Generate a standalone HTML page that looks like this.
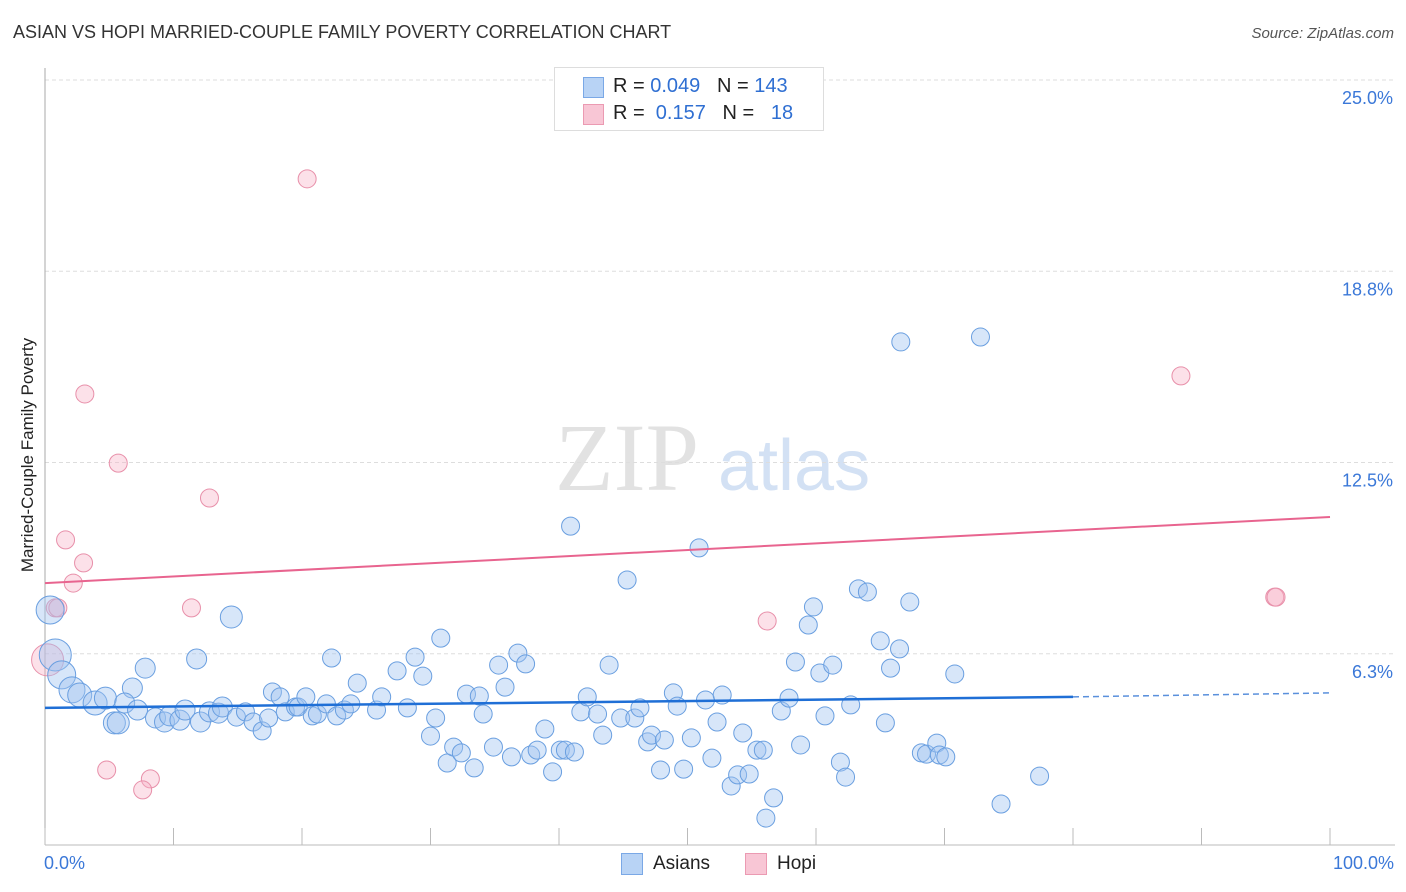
<!DOCTYPE html>
<html><head><meta charset="utf-8"><style>
body{margin:0;background:#fff;font-family:"Liberation Sans",sans-serif;}
#wrap{position:relative;width:1406px;height:892px;overflow:hidden;}
.t{position:absolute;white-space:nowrap;}
</style></head><body>
<div id="wrap">
<div class="t" style="left:13px;top:22px;font-size:18px;color:#333;">ASIAN VS HOPI MARRIED-COUPLE FAMILY POVERTY CORRELATION CHART</div>
<div class="t" style="right:12px;top:25px;font-size:15px;color:#555;font-style:italic;">Source: ZipAtlas.com</div>
<div class="t" style="left:28px;top:455px;font-size:17px;color:#222;transform:translate(-50%,-50%) rotate(-90deg);">Married-Couple Family Poverty</div>
<svg id="svg" width="1406" height="892" style="position:absolute;left:0;top:0">
<text x="555" y="490" font-family="Liberation Serif" font-size="96" fill="#e2e2e2">ZIP</text>
<text x="718" y="490" font-family="Liberation Sans" font-size="72" fill="#d3e1f4">atlas</text>
</svg>
<div style="position:absolute;left:554px;top:67px;width:268px;height:62px;border:1px solid #ddd;background:#fff;font-size:20px;">
<div style="position:absolute;left:28px;top:9px;width:19px;height:19px;background:#b8d3f5;border:1px solid #7aa8e6;"></div>
<div class="t" style="left:58px;top:7px;color:#222;">R = <span style="color:#2f6fd2">0.049</span>&nbsp;&nbsp;&nbsp;N = <span style="color:#2f6fd2">143</span></div>
<div style="position:absolute;left:28px;top:36px;width:19px;height:19px;background:#f8c6d5;border:1px solid #eb9ab2;"></div>
<div class="t" style="left:58px;top:34px;color:#222;">R = &nbsp;<span style="color:#2f6fd2">0.157</span>&nbsp;&nbsp;&nbsp;N = &nbsp;&nbsp;<span style="color:#2f6fd2">18</span></div>
</div>
<div class="t" style="left:44px;top:853px;font-size:18px;color:#3b78d8;">0.0%</div>
<div class="t" style="right:12px;top:853px;font-size:18px;color:#3b78d8;">100.0%</div>
<div>
<div style="position:absolute;left:621px;top:853px;width:20px;height:20px;background:#b8d3f5;border:1px solid #7aa8e6;"></div>
<div class="t" style="left:653px;top:853px;font-size:19px;color:#222;">Asians</div>
<div style="position:absolute;left:745px;top:853px;width:20px;height:20px;background:#f8c6d5;border:1px solid #eb9ab2;"></div>
<div class="t" style="left:777px;top:853px;font-size:19px;color:#222;">Hopi</div>
</div>
</div>
<script>
const yTicks=[6.25,12.5,18.75,25];
const yTickLabels=["6.3%","12.5%","18.8%","25.0%"];
const xTicks=[0,10,20,30,40,50,60,70,80,90,100];
const asianX=[0.4,0.8,1.3,2.1,2.7,3.9,4.7,5.4,5.7,6.8,7.8,6.2,7.2,8.6,9.3,9.7,10.5,10.9,11.8,12.1,12.8,13.5,13.8,14.5,14.9,15.6,16.2,16.9,17.4,17.7,18.3,18.7,19.5,19.7,20.3,20.8,21.2,21.9,22.3,22.7,23.3,23.8,24.3,25.8,26.2,27.4,28.2,28.8,29.4,30.0,30.4,30.8,31.3,31.8,32.4,32.8,33.4,33.8,34.1,34.9,35.3,35.8,36.3,36.8,37.4,37.8,38.3,38.9,39.5,40.1,40.5,40.9,41.2,41.7,42.2,43.0,43.4,43.9,44.8,45.3,45.9,46.3,46.9,47.2,47.9,48.2,48.9,49.2,49.7,50.3,50.9,51.4,51.9,52.3,52.7,53.4,53.9,54.3,54.8,55.4,55.9,56.1,56.7,57.3,57.9,58.4,58.8,59.4,59.8,60.3,60.7,61.3,61.9,62.3,62.7,63.3,64.0,65.0,65.4,65.8,66.5,66.6,67.3,68.2,68.6,69.4,69.6,70.1,70.8,72.8,74.4,77.4];
const asianY=[7.68,6.21,5.56,5.07,4.90,4.64,4.80,3.99,3.99,5.13,5.78,4.64,4.41,4.15,4.02,4.22,4.08,4.41,6.08,4.02,4.35,4.31,4.51,7.45,4.18,4.35,4.02,3.73,4.15,5.00,4.84,4.35,4.51,4.51,4.84,4.22,4.28,4.61,6.11,4.22,4.41,4.61,5.29,4.41,4.84,5.69,4.48,6.14,5.52,3.56,4.15,6.76,2.68,3.20,3.01,4.93,2.52,4.87,4.28,3.20,5.88,5.16,2.88,6.27,5.92,2.94,3.10,3.79,2.39,3.10,3.10,10.42,3.04,4.35,4.84,4.28,3.59,5.88,4.15,8.66,4.15,4.48,3.37,3.59,2.45,3.43,4.97,4.54,2.48,3.50,9.71,4.74,2.84,4.02,4.90,1.93,2.29,3.66,2.32,3.10,3.10,0.88,1.54,4.38,4.80,5.98,3.27,7.19,7.78,5.62,4.22,5.88,2.71,2.22,4.58,8.37,8.27,6.67,3.99,5.78,6.41,16.44,7.94,3.01,2.97,3.33,2.94,2.88,5.59,16.60,1.34,2.25];
const asianSize=[14,16,14,13,12,12,11,11,11,10,10,10,10,10,10,10,10,10,10,10,10,10,10,11];
const hopiX=[0.2,0.8,1.0,3.1,5.7,1.6,3.0,2.2,12.8,11.4,20.4,4.8,8.2,7.6,56.2,88.4,95.7,95.8];
const hopiY=[6.05,7.75,7.75,14.74,12.48,9.97,9.22,8.56,11.34,7.75,21.77,2.45,2.16,1.80,7.32,15.33,8.10,8.10];
const hopiSize=[16,9,9,9,9,9,9,9,9,9,9,9,9,9,9,9,9,9];
const asianTrend=[4.48,4.84,4.97];
const hopiTrend=[8.56,10.72];
const X0=45,X1=1330,Y0=845,Y1=80;
const xs=v=>X0+(X1-X0)*v/100;
const ys=v=>Y0-(Y0-Y1)*v/25;
const svg=document.getElementById('svg');
const NS='http://www.w3.org/2000/svg';
function mk(tag,attrs){const e=document.createElementNS(NS,tag);for(const k in attrs)e.setAttribute(k,attrs[k]);svg.appendChild(e);return e;}
yTicks.forEach((t,i)=>{
 const g=mk('line',{x1:X0,x2:1395,y1:ys(t),y2:ys(t),stroke:'#ddd','stroke-dasharray':'4,3'});
 
 
 const l=mk('text',{x:1393,y:ys(t)+24,'text-anchor':'end','font-size':18,fill:'#3b78d8','font-family':'Liberation Sans'});
 l.textContent=yTickLabels[i];
 
 
});
const ax=mk('line',{x1:X0,x2:X0,y1:68,y2:Y0,stroke:'#aaa'});


const bx=mk('line',{x1:X0,x2:1395,y1:Y0,y2:Y0,stroke:'#bbb'});


xTicks.forEach(t=>{
 const l=mk('line',{x1:xs(t),x2:xs(t),y1:828,y2:Y0,stroke:'#bbb'});
 
 
});
hopiX.forEach((x,i)=>{
 const c=mk('circle',{cx:xs(x),cy:ys(hopiY[i]),r:hopiSize[i]||9,fill:'rgba(246,175,198,0.38)',stroke:'#e890aa','stroke-width':1});
 
 
});
asianX.forEach((x,i)=>{
 const c=mk('circle',{cx:xs(x),cy:ys(asianY[i]),r:asianSize[i]||9,fill:'rgba(160,196,240,0.42)',stroke:'#6a9fe0','stroke-width':1});
 
 
});
const pt=mk('line',{x1:xs(0),y1:ys(hopiTrend[0]),x2:xs(100),y2:ys(hopiTrend[1]),stroke:'#e8648f','stroke-width':2});


const at=mk('line',{x1:xs(0),y1:ys(asianTrend[0]),x2:xs(80),y2:ys(asianTrend[1]),stroke:'#1f6fd6','stroke-width':2.5});


const ad=mk('line',{x1:xs(80),y1:ys(asianTrend[1]),x2:xs(100),y2:ys(asianTrend[2]),stroke:'#5a90dc','stroke-width':1.5,'stroke-dasharray':'6,4'});


</script>
</body></html>
